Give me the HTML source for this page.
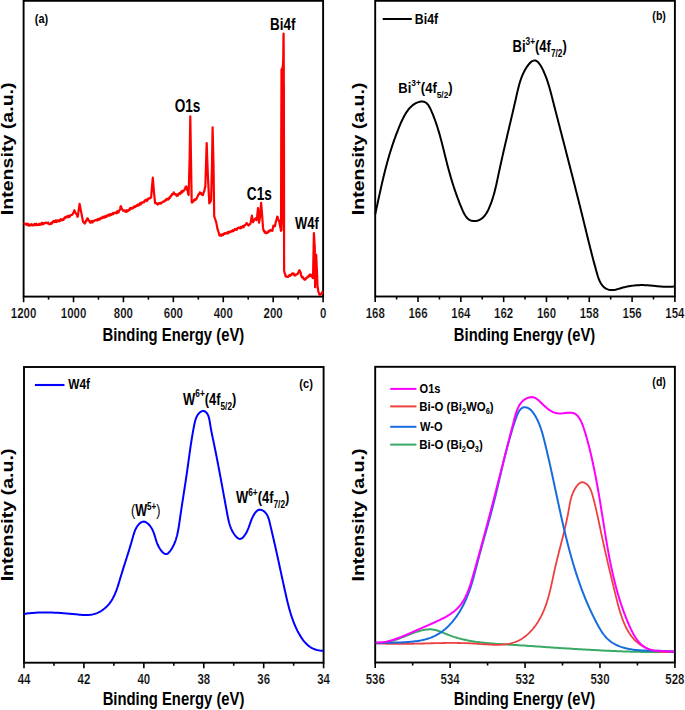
<!DOCTYPE html>
<html><head><meta charset="utf-8"><style>
html,body{margin:0;padding:0;background:#fff;}
svg{display:block;}
text{font-family:"Liberation Sans",sans-serif;}
</style></head><body>
<svg width="685" height="710" viewBox="0 0 685 710">
<rect width="685" height="710" fill="#fff"/>
<rect x="23.60" y="0.80" width="299.50" height="295.80" fill="none" stroke="#000" stroke-width="1.9"/>
<line x1="323.10" y1="296.60" x2="323.10" y2="302.20" stroke="#000" stroke-width="1.6"/>
<line x1="298.14" y1="296.60" x2="298.14" y2="299.60" stroke="#000" stroke-width="1.6"/>
<line x1="273.18" y1="296.60" x2="273.18" y2="302.20" stroke="#000" stroke-width="1.6"/>
<line x1="248.22" y1="296.60" x2="248.22" y2="299.60" stroke="#000" stroke-width="1.6"/>
<line x1="223.27" y1="296.60" x2="223.27" y2="302.20" stroke="#000" stroke-width="1.6"/>
<line x1="198.31" y1="296.60" x2="198.31" y2="299.60" stroke="#000" stroke-width="1.6"/>
<line x1="173.35" y1="296.60" x2="173.35" y2="302.20" stroke="#000" stroke-width="1.6"/>
<line x1="148.39" y1="296.60" x2="148.39" y2="299.60" stroke="#000" stroke-width="1.6"/>
<line x1="123.43" y1="296.60" x2="123.43" y2="302.20" stroke="#000" stroke-width="1.6"/>
<line x1="98.47" y1="296.60" x2="98.47" y2="299.60" stroke="#000" stroke-width="1.6"/>
<line x1="73.52" y1="296.60" x2="73.52" y2="302.20" stroke="#000" stroke-width="1.6"/>
<line x1="48.56" y1="296.60" x2="48.56" y2="299.60" stroke="#000" stroke-width="1.6"/>
<line x1="23.60" y1="296.60" x2="23.60" y2="302.20" stroke="#000" stroke-width="1.6"/>
<rect x="375.20" y="0.80" width="299.70" height="295.70" fill="none" stroke="#000" stroke-width="1.9"/>
<line x1="674.90" y1="296.50" x2="674.90" y2="302.10" stroke="#000" stroke-width="1.6"/>
<line x1="653.49" y1="296.50" x2="653.49" y2="299.50" stroke="#000" stroke-width="1.6"/>
<line x1="632.09" y1="296.50" x2="632.09" y2="302.10" stroke="#000" stroke-width="1.6"/>
<line x1="610.68" y1="296.50" x2="610.68" y2="299.50" stroke="#000" stroke-width="1.6"/>
<line x1="589.27" y1="296.50" x2="589.27" y2="302.10" stroke="#000" stroke-width="1.6"/>
<line x1="567.86" y1="296.50" x2="567.86" y2="299.50" stroke="#000" stroke-width="1.6"/>
<line x1="546.46" y1="296.50" x2="546.46" y2="302.10" stroke="#000" stroke-width="1.6"/>
<line x1="525.05" y1="296.50" x2="525.05" y2="299.50" stroke="#000" stroke-width="1.6"/>
<line x1="503.64" y1="296.50" x2="503.64" y2="302.10" stroke="#000" stroke-width="1.6"/>
<line x1="482.24" y1="296.50" x2="482.24" y2="299.50" stroke="#000" stroke-width="1.6"/>
<line x1="460.83" y1="296.50" x2="460.83" y2="302.10" stroke="#000" stroke-width="1.6"/>
<line x1="439.42" y1="296.50" x2="439.42" y2="299.50" stroke="#000" stroke-width="1.6"/>
<line x1="418.01" y1="296.50" x2="418.01" y2="302.10" stroke="#000" stroke-width="1.6"/>
<line x1="396.61" y1="296.50" x2="396.61" y2="299.50" stroke="#000" stroke-width="1.6"/>
<line x1="375.20" y1="296.50" x2="375.20" y2="302.10" stroke="#000" stroke-width="1.6"/>
<rect x="24.00" y="367.00" width="299.60" height="295.70" fill="none" stroke="#000" stroke-width="1.9"/>
<line x1="323.60" y1="662.70" x2="323.60" y2="668.30" stroke="#000" stroke-width="1.6"/>
<line x1="293.64" y1="662.70" x2="293.64" y2="665.70" stroke="#000" stroke-width="1.6"/>
<line x1="263.68" y1="662.70" x2="263.68" y2="668.30" stroke="#000" stroke-width="1.6"/>
<line x1="233.72" y1="662.70" x2="233.72" y2="665.70" stroke="#000" stroke-width="1.6"/>
<line x1="203.76" y1="662.70" x2="203.76" y2="668.30" stroke="#000" stroke-width="1.6"/>
<line x1="173.80" y1="662.70" x2="173.80" y2="665.70" stroke="#000" stroke-width="1.6"/>
<line x1="143.84" y1="662.70" x2="143.84" y2="668.30" stroke="#000" stroke-width="1.6"/>
<line x1="113.88" y1="662.70" x2="113.88" y2="665.70" stroke="#000" stroke-width="1.6"/>
<line x1="83.92" y1="662.70" x2="83.92" y2="668.30" stroke="#000" stroke-width="1.6"/>
<line x1="53.96" y1="662.70" x2="53.96" y2="665.70" stroke="#000" stroke-width="1.6"/>
<line x1="24.00" y1="662.70" x2="24.00" y2="668.30" stroke="#000" stroke-width="1.6"/>
<rect x="375.20" y="366.80" width="299.70" height="295.70" fill="none" stroke="#000" stroke-width="1.9"/>
<line x1="674.90" y1="662.50" x2="674.90" y2="668.10" stroke="#000" stroke-width="1.6"/>
<line x1="637.44" y1="662.50" x2="637.44" y2="665.50" stroke="#000" stroke-width="1.6"/>
<line x1="599.97" y1="662.50" x2="599.97" y2="668.10" stroke="#000" stroke-width="1.6"/>
<line x1="562.51" y1="662.50" x2="562.51" y2="665.50" stroke="#000" stroke-width="1.6"/>
<line x1="525.05" y1="662.50" x2="525.05" y2="668.10" stroke="#000" stroke-width="1.6"/>
<line x1="487.59" y1="662.50" x2="487.59" y2="665.50" stroke="#000" stroke-width="1.6"/>
<line x1="450.12" y1="662.50" x2="450.12" y2="668.10" stroke="#000" stroke-width="1.6"/>
<line x1="412.66" y1="662.50" x2="412.66" y2="665.50" stroke="#000" stroke-width="1.6"/>
<line x1="375.20" y1="662.50" x2="375.20" y2="668.10" stroke="#000" stroke-width="1.6"/>
<path d="M280.50,231.00 L280.70,152.00 L281.10,72.00 L281.40,69.50 L282.50,57.00 L282.80,33.50 L284.00,33.50 L284.20,57.00 L284.30,83.00 L284.80,86.00 L284.80,214.00 L283.40,214.00 L282.50,231.00 Z" fill="#ff0000"/>
<path d="M24.10,224.00 L24.53,223.57 L24.97,224.22 L25.40,223.95 L25.83,224.46 L26.27,224.57 L26.70,223.57 L27.13,223.54 L27.57,225.17 L28.00,224.14 L28.43,224.16 L28.87,225.68 L29.30,224.80 L29.73,224.74 L30.15,225.44 L30.58,224.76 L31.01,225.06 L31.44,224.14 L31.86,225.06 L32.29,225.50 L32.72,224.84 L33.15,225.26 L33.57,225.13 L34.00,224.80 L34.43,223.92 L34.85,225.18 L35.28,224.81 L35.71,224.20 L36.14,223.64 L36.56,225.17 L36.99,224.37 L37.42,224.78 L37.85,225.03 L38.27,224.66 L38.70,224.20 L39.13,224.93 L39.55,223.85 L39.98,224.55 L40.41,223.80 L40.84,224.66 L41.26,224.48 L41.69,222.93 L42.12,222.93 L42.55,223.01 L42.97,224.36 L43.40,223.40 L43.82,223.20 L44.24,223.48 L44.65,222.78 L45.07,223.09 L45.49,222.77 L45.91,222.63 L46.33,222.99 L46.75,222.91 L47.16,223.43 L47.58,222.93 L48.00,222.50 L48.48,223.61 L48.96,223.78 L49.44,224.33 L49.92,224.03 L50.40,224.00 L50.86,222.90 L51.32,223.77 L51.78,223.50 L52.24,222.93 L52.70,221.70 L53.11,221.77 L53.52,221.99 L53.94,220.97 L54.35,222.09 L54.76,221.55 L55.17,220.94 L55.58,220.46 L55.99,221.90 L56.41,222.10 L56.82,220.33 L57.23,221.62 L57.64,220.82 L58.05,220.27 L58.46,220.48 L58.88,221.33 L59.29,221.47 L59.70,220.70 L60.13,219.62 L60.55,220.50 L60.98,219.21 L61.41,220.28 L61.84,219.33 L62.26,220.17 L62.69,220.15 L63.12,219.04 L63.55,219.77 L63.97,218.25 L64.40,218.40 L64.83,217.39 L65.25,218.17 L65.68,216.88 L66.11,216.99 L66.54,217.18 L66.96,217.36 L67.39,216.28 L67.82,215.86 L68.25,217.22 L68.67,215.96 L69.10,216.10 L69.54,216.75 L69.97,216.40 L70.41,215.19 L70.85,215.12 L71.29,215.01 L71.72,215.02 L72.16,214.71 L72.60,214.30 L73.02,213.39 L73.45,212.48 L73.88,212.06 L74.30,210.20 L74.75,211.09 L75.20,211.82 L75.65,213.24 L76.10,213.70 L76.52,213.93 L76.95,214.77 L77.38,216.78 L77.80,216.60 L78.25,213.40 L78.70,210.20 L79.15,207.00 L79.60,203.80 L80.02,206.00 L80.45,208.20 L80.88,210.40 L81.30,212.60 L81.75,214.93 L82.20,217.25 L82.65,219.57 L83.10,221.90 L83.52,222.37 L83.95,222.84 L84.38,222.25 L84.80,223.60 L85.21,222.70 L85.63,222.27 L86.04,220.46 L86.46,220.85 L86.87,220.14 L87.29,218.31 L87.70,218.40 L88.18,219.46 L88.66,219.98 L89.14,221.20 L89.62,221.40 L90.10,222.50 L90.52,222.73 L90.94,222.62 L91.35,221.10 L91.77,221.01 L92.19,222.02 L92.61,222.40 L93.03,220.88 L93.45,221.11 L93.86,221.20 L94.28,220.52 L94.70,220.70 L95.11,220.31 L95.52,220.08 L95.92,220.06 L96.33,220.36 L96.74,219.67 L97.15,219.68 L97.55,220.30 L97.96,218.75 L98.37,219.65 L98.78,219.84 L99.18,218.90 L99.59,218.60 L100.00,219.00 L100.40,219.34 L100.80,218.02 L101.20,217.69 L101.60,217.92 L102.00,217.80 L102.41,218.02 L102.82,216.74 L103.24,217.00 L103.65,216.87 L104.06,217.67 L104.47,216.77 L104.88,217.40 L105.29,215.95 L105.71,216.11 L106.12,216.56 L106.53,216.85 L106.94,215.87 L107.35,215.29 L107.76,214.94 L108.18,215.56 L108.59,214.77 L109.00,215.20 L109.41,215.63 L109.82,215.54 L110.24,214.14 L110.65,214.17 L111.06,215.02 L111.47,214.55 L111.88,214.71 L112.29,213.68 L112.71,213.12 L113.12,213.28 L113.53,214.08 L113.94,212.93 L114.35,212.92 L114.76,212.90 L115.18,212.75 L115.59,212.58 L116.00,212.60 L116.41,213.23 L116.83,211.60 L117.24,211.14 L117.66,212.76 L118.07,212.46 L118.49,212.50 L118.90,211.40 L119.30,210.22 L119.70,210.14 L120.10,209.03 L120.50,206.63 L120.90,206.10 L121.32,207.51 L121.74,208.62 L122.16,209.23 L122.58,209.90 L123.00,210.80 L123.41,210.51 L123.83,210.73 L124.24,210.63 L124.66,210.44 L125.07,211.54 L125.49,211.08 L125.90,211.60 L126.33,211.90 L126.76,210.16 L127.19,211.51 L127.61,210.83 L128.04,210.98 L128.47,210.64 L128.90,209.60 L129.31,210.15 L129.73,209.33 L130.14,208.05 L130.56,209.24 L130.97,207.94 L131.39,207.98 L131.80,208.46 L132.21,207.99 L132.63,207.57 L133.04,208.36 L133.46,207.53 L133.87,206.81 L134.29,206.44 L134.70,206.70 L135.11,207.18 L135.52,206.24 L135.94,206.62 L136.35,205.59 L136.76,205.10 L137.17,205.53 L137.58,205.86 L137.99,204.43 L138.41,205.40 L138.82,205.44 L139.23,205.02 L139.64,204.84 L140.05,203.09 L140.46,204.06 L140.88,204.30 L141.29,202.55 L141.70,203.20 L142.12,202.52 L142.54,202.26 L142.96,202.50 L143.39,202.05 L143.81,201.90 L144.23,202.23 L144.65,200.50 L145.07,200.35 L145.49,200.24 L145.91,199.99 L146.34,199.63 L146.76,201.10 L147.18,200.62 L147.60,199.70 L148.04,198.63 L148.47,199.13 L148.91,198.49 L149.35,198.20 L149.79,197.98 L150.22,198.25 L150.66,197.85 L151.10,197.40 L151.53,192.43 L151.95,187.45 L152.38,182.47 L152.80,177.50 L153.40,185.10 L154.00,192.70 L154.55,197.95 L155.10,203.20 L155.53,203.11 L155.96,202.96 L156.39,203.39 L156.81,203.17 L157.24,204.16 L157.67,204.64 L158.10,204.40 L158.52,203.95 L158.94,203.17 L159.35,203.13 L159.77,203.29 L160.19,203.51 L160.61,203.63 L161.03,202.65 L161.45,203.23 L161.86,202.67 L162.28,202.09 L162.70,202.00 L163.12,201.51 L163.54,201.49 L163.96,201.64 L164.39,200.85 L164.81,201.12 L165.23,200.43 L165.65,199.77 L166.07,200.07 L166.49,200.12 L166.91,198.69 L167.34,199.11 L167.76,198.86 L168.18,199.47 L168.60,198.50 L169.01,198.90 L169.43,197.40 L169.84,197.97 L170.26,197.34 L170.67,195.91 L171.09,195.86 L171.50,195.50 L171.94,194.14 L172.38,194.82 L172.82,193.89 L173.26,193.68 L173.70,192.30 L174.14,193.38 L174.59,193.68 L175.03,194.33 L175.47,194.54 L175.91,194.19 L176.36,195.64 L176.80,196.00 L177.26,194.70 L177.71,194.61 L178.17,195.45 L178.63,193.71 L179.09,193.44 L179.54,193.10 L180.00,193.50 L180.44,193.85 L180.88,192.14 L181.31,191.47 L181.75,192.65 L182.19,190.91 L182.62,191.90 L183.06,191.20 L183.50,190.50 L183.91,190.57 L184.33,190.22 L184.74,188.94 L185.16,188.78 L185.57,186.76 L185.99,187.58 L186.40,186.50 L186.84,188.22 L187.28,190.31 L187.72,190.85 L188.16,193.77 L188.60,195.00 L189.10,177.50 L189.60,160.00 L190.30,116.40 L191.00,160.00 L191.70,202.00 L192.10,202.56 L192.50,200.63 L192.90,200.87 L193.30,201.05 L193.70,201.29 L194.10,199.91 L194.50,199.52 L194.90,199.39 L195.30,199.82 L195.70,199.82 L196.10,198.86 L196.50,198.80 L196.91,197.75 L197.32,197.00 L197.74,196.12 L198.15,195.44 L198.56,194.01 L198.98,194.00 L199.39,194.10 L199.80,192.40 L200.24,192.63 L200.69,193.67 L201.13,192.96 L201.57,194.36 L202.01,194.89 L202.46,195.13 L202.90,195.20 L203.30,193.85 L203.70,192.40 L204.10,191.32 L204.50,190.42 L204.90,187.62 L205.30,186.90 L205.77,172.27 L206.23,157.63 L206.70,143.00 L207.25,158.55 L207.80,174.10 L208.30,183.87 L208.80,193.63 L209.30,203.40 L209.75,201.71 L210.20,202.02 L210.65,201.42 L211.10,199.70 L211.55,182.30 L212.00,164.90 L212.60,127.40 L213.05,146.15 L213.50,164.90 L214.20,216.20 L214.67,217.61 L215.15,218.84 L215.62,220.74 L216.10,221.70 L216.57,224.13 L217.03,226.57 L217.50,229.00 L217.97,230.03 L218.45,231.81 L218.93,233.30 L219.40,235.50 L219.80,235.54 L220.20,234.91 L220.60,234.64 L221.00,235.39 L221.40,235.77 L221.80,234.40 L222.20,235.06 L222.60,234.39 L223.00,235.10 L223.40,234.47 L223.80,233.75 L224.20,233.54 L224.60,233.05 L225.00,233.80 L225.40,233.50 L225.80,233.60 L226.23,232.77 L226.67,232.91 L227.10,232.63 L227.53,233.28 L227.97,231.87 L228.40,233.27 L228.83,232.08 L229.27,232.10 L229.70,231.70 L230.10,231.48 L230.50,232.02 L230.90,231.84 L231.30,231.18 L231.70,230.87 L232.10,231.17 L232.50,231.27 L232.90,230.24 L233.30,230.72 L233.70,230.99 L234.10,229.90 L234.50,229.80 L234.93,229.11 L235.35,228.95 L235.78,229.70 L236.21,229.44 L236.64,229.81 L237.06,229.44 L237.49,228.10 L237.92,227.83 L238.35,227.79 L238.77,227.48 L239.20,227.90 L239.60,228.17 L240.00,228.35 L240.40,228.31 L240.80,226.97 L241.20,228.01 L241.60,226.85 L242.00,226.94 L242.40,227.40 L242.80,226.06 L243.20,225.96 L243.60,227.25 L244.00,226.50 L244.46,225.52 L244.92,225.07 L245.38,224.91 L245.84,224.51 L246.30,223.60 L246.78,223.04 L247.26,224.05 L247.74,224.62 L248.22,225.09 L248.70,225.50 L249.17,224.25 L249.65,224.26 L250.12,224.27 L250.60,222.70 L251.03,220.33 L251.47,217.97 L251.90,215.60 L252.45,218.90 L253.00,222.20 L253.40,221.36 L253.80,221.02 L254.20,219.58 L254.60,219.24 L255.00,219.35 L255.40,218.40 L255.87,218.13 L256.33,220.07 L256.80,219.80 L257.40,213.90 L258.00,208.00 L258.50,215.35 L259.00,222.70 L259.45,220.35 L259.90,218.00 L260.30,212.93 L260.70,207.87 L261.10,202.80 L261.65,209.45 L262.20,216.10 L262.60,221.75 L263.00,227.40 L263.45,230.08 L263.90,231.20 L264.30,230.71 L264.70,232.58 L265.10,231.78 L265.50,232.80 L265.90,233.05 L266.30,232.44 L266.70,233.10 L267.11,233.03 L267.53,232.59 L267.94,232.48 L268.36,231.05 L268.77,231.58 L269.19,231.58 L269.60,230.30 L270.07,230.71 L270.53,230.54 L271.00,229.82 L271.47,230.62 L271.93,230.44 L272.40,230.80 L272.90,228.15 L273.40,225.50 L273.87,226.25 L274.33,226.51 L274.80,226.50 L275.28,224.63 L275.76,221.90 L276.24,220.78 L276.72,218.75 L277.20,216.50 L277.68,216.97 L278.15,219.39 L278.62,220.02 L279.10,220.80 L279.58,223.30 L280.05,225.80 L280.52,228.30 L281.00,230.80 L281.50,69.50 L281.95,68.78 L282.40,69.50 L283.00,120.00 L283.60,33.60 L284.00,150.00 L284.10,270.40 L284.57,273.12 L285.03,273.52 L285.50,276.10 L285.90,275.88 L286.30,276.72 L286.70,276.59 L287.10,276.60 L287.50,276.88 L287.90,276.62 L288.30,276.80 L288.72,276.11 L289.14,275.53 L289.56,274.99 L289.98,275.89 L290.40,275.63 L290.82,274.90 L291.24,274.95 L291.66,273.89 L292.08,273.39 L292.50,273.50 L292.91,273.55 L293.33,274.75 L293.74,273.44 L294.16,274.59 L294.57,274.38 L294.99,275.64 L295.40,275.40 L295.82,274.82 L296.24,274.48 L296.66,274.32 L297.08,274.28 L297.50,273.90 L297.92,273.72 L298.34,272.22 L298.76,272.46 L299.18,270.36 L299.60,270.40 L300.02,271.24 L300.44,272.20 L300.86,273.50 L301.28,276.05 L301.70,276.80 L302.14,277.58 L302.57,276.90 L303.01,277.26 L303.45,278.04 L303.89,279.01 L304.32,279.50 L304.76,279.72 L305.20,279.60 L305.60,279.37 L306.00,278.13 L306.40,278.21 L306.80,277.42 L307.20,277.65 L307.60,277.33 L308.00,276.80 L308.40,275.92 L308.80,275.70 L309.20,276.39 L309.60,274.65 L310.00,275.80 L310.40,275.66 L310.80,274.60 L311.24,276.17 L311.68,275.82 L312.12,276.86 L312.56,277.64 L313.00,278.20 L313.45,255.65 L313.90,233.10 L314.35,240.50 L314.80,247.90 L315.10,287.30 L315.65,271.10 L316.20,254.90 L316.90,270.40 L317.60,287.30 L318.03,289.33 L318.45,291.76 L318.88,292.98 L319.30,294.40 L319.72,293.88 L320.14,294.80 L320.56,293.95 L320.98,294.03 L321.40,293.70 L321.87,293.66 L322.33,291.82 L322.80,292.30" fill="none" stroke="#ff0000" stroke-width="2.2" stroke-linejoin="round"/>
<path d="M375.21,214.25 L375.55,212.69 L375.89,211.15 L376.22,209.61 L376.56,208.08 L376.89,206.55 L377.22,205.04 L377.54,203.53 L377.87,202.02 L378.19,200.53 L378.52,199.04 L378.84,197.56 L379.16,196.08 L379.48,194.61 L379.80,193.15 L380.13,191.69 L380.45,190.23 L380.77,188.78 L381.10,187.34 L381.42,185.89 L381.75,184.46 L382.08,183.02 L382.41,181.59 L382.74,180.17 L383.08,178.75 L383.41,177.33 L383.76,175.91 L384.10,174.49 L384.45,173.08 L384.80,171.67 L385.16,170.26 L385.52,168.86 L385.88,167.45 L386.25,166.04 L386.62,164.64 L387.00,163.24 L387.39,161.83 L387.78,160.43 L388.17,159.03 L388.58,157.62 L388.99,156.22 L389.40,154.81 L389.82,153.41 L390.25,152.00 L390.69,150.59 L391.14,149.18 L391.59,147.77 L392.05,146.35 L392.52,144.94 L393.00,143.52 L393.49,142.09 L393.99,140.67 L394.49,139.24 L395.01,137.80 L395.53,136.36 L396.07,134.92 L396.62,133.48 L397.18,132.03 L397.74,130.57 L398.32,129.11 L398.91,127.64 L399.52,126.17 L400.13,124.70 L400.76,123.22 L401.41,121.75 L402.08,120.29 L402.76,118.85 L403.48,117.43 L404.21,116.03 L404.98,114.67 L405.77,113.34 L406.60,112.06 L407.46,110.82 L408.36,109.63 L409.30,108.50 L410.27,107.43 L411.30,106.43 L412.36,105.51 L413.48,104.66 L414.64,103.89 L415.86,103.21 L417.13,102.62 L418.46,102.14 L419.81,101.77 L421.17,101.56 L422.49,101.52 L423.75,101.69 L424.92,102.08 L425.99,102.70 L426.96,103.53 L427.85,104.52 L428.66,105.66 L429.42,106.92 L430.12,108.26 L430.79,109.67 L431.43,111.10 L432.04,112.54 L432.64,113.98 L433.23,115.43 L433.79,116.87 L434.35,118.32 L434.88,119.77 L435.40,121.22 L435.91,122.67 L436.41,124.13 L436.89,125.58 L437.36,127.04 L437.82,128.49 L438.26,129.95 L438.70,131.41 L439.13,132.87 L439.55,134.32 L439.96,135.78 L440.36,137.24 L440.76,138.70 L441.15,140.16 L441.53,141.61 L441.91,143.07 L442.28,144.52 L442.65,145.98 L443.02,147.43 L443.38,148.88 L443.74,150.33 L444.10,151.78 L444.46,153.23 L444.81,154.68 L445.17,156.12 L445.53,157.56 L445.89,159.00 L446.25,160.44 L446.61,161.87 L446.98,163.30 L447.35,164.73 L447.72,166.16 L448.10,167.59 L448.48,169.01 L448.87,170.43 L449.26,171.85 L449.66,173.28 L450.06,174.70 L450.46,176.11 L450.88,177.53 L451.30,178.95 L451.72,180.37 L452.15,181.79 L452.59,183.21 L453.04,184.64 L453.50,186.06 L453.96,187.48 L454.43,188.91 L454.91,190.33 L455.40,191.76 L455.90,193.20 L456.40,194.63 L456.92,196.07 L457.45,197.51 L457.99,198.95 L458.54,200.40 L459.10,201.84 L459.67,203.30 L460.25,204.76 L460.84,206.22 L461.45,207.68 L462.07,209.15 L462.71,210.61 L463.38,212.04 L464.07,213.43 L464.81,214.75 L465.60,216.00 L466.44,217.15 L467.35,218.18 L468.32,219.09 L469.38,219.85 L470.51,220.44 L471.74,220.86 L473.05,221.08 L474.43,221.12 L475.84,220.98 L477.25,220.68 L478.64,220.22 L479.98,219.62 L481.24,218.87 L482.40,217.99 L483.48,217.00 L484.48,215.90 L485.40,214.72 L486.26,213.45 L487.06,212.13 L487.80,210.75 L488.49,209.34 L489.14,207.90 L489.76,206.45 L490.35,204.99 L490.90,203.54 L491.44,202.09 L491.94,200.64 L492.43,199.19 L492.89,197.73 L493.33,196.28 L493.76,194.83 L494.16,193.38 L494.55,191.93 L494.92,190.48 L495.28,189.03 L495.63,187.58 L495.97,186.12 L496.30,184.67 L496.62,183.22 L496.94,181.77 L497.25,180.32 L497.55,178.87 L497.86,177.42 L498.16,175.97 L498.47,174.52 L498.78,173.06 L499.09,171.61 L499.40,170.16 L499.71,168.71 L500.03,167.26 L500.34,165.81 L500.66,164.36 L500.98,162.91 L501.31,161.45 L501.63,160.00 L501.96,158.55 L502.28,157.10 L502.61,155.65 L502.94,154.19 L503.27,152.74 L503.60,151.29 L503.94,149.83 L504.27,148.38 L504.61,146.93 L504.94,145.47 L505.28,144.02 L505.62,142.57 L505.96,141.11 L506.30,139.66 L506.64,138.20 L506.98,136.74 L507.32,135.29 L507.66,133.83 L508.00,132.37 L508.34,130.92 L508.69,129.46 L509.03,128.00 L509.37,126.54 L509.72,125.08 L510.06,123.62 L510.40,122.16 L510.75,120.70 L511.09,119.24 L511.43,117.78 L511.77,116.32 L512.12,114.86 L512.46,113.39 L512.80,111.93 L513.14,110.46 L513.48,109.00 L513.82,107.53 L514.16,106.07 L514.50,104.60 L514.83,103.13 L515.17,101.66 L515.50,100.19 L515.84,98.72 L516.17,97.25 L516.50,95.78 L516.83,94.31 L517.17,92.84 L517.51,91.36 L517.85,89.89 L518.21,88.43 L518.58,86.96 L518.97,85.50 L519.37,84.04 L519.80,82.59 L520.25,81.14 L520.72,79.70 L521.23,78.27 L521.77,76.85 L522.35,75.43 L522.96,74.02 L523.62,72.62 L524.32,71.23 L525.06,69.86 L525.86,68.49 L526.70,67.14 L527.59,65.84 L528.52,64.61 L529.47,63.49 L530.45,62.49 L531.44,61.66 L532.43,61.02 L533.43,60.60 L534.41,60.43 L535.38,60.54 L536.34,60.90 L537.27,61.51 L538.18,62.32 L539.06,63.32 L539.92,64.47 L540.76,65.76 L541.56,67.15 L542.34,68.63 L543.08,70.17 L543.79,71.73 L544.47,73.30 L545.11,74.85 L545.71,76.38 L546.29,77.90 L546.83,79.40 L547.35,80.89 L547.84,82.36 L548.31,83.83 L548.76,85.28 L549.19,86.72 L549.60,88.16 L550.00,89.59 L550.39,91.01 L550.77,92.43 L551.14,93.85 L551.51,95.27 L551.87,96.68 L552.23,98.10 L552.60,99.52 L552.96,100.94 L553.33,102.36 L553.69,103.79 L554.06,105.22 L554.43,106.64 L554.80,108.07 L555.16,109.50 L555.53,110.94 L555.90,112.37 L556.27,113.81 L556.64,115.24 L557.02,116.68 L557.39,118.12 L557.76,119.56 L558.13,121.00 L558.50,122.45 L558.88,123.89 L559.25,125.34 L559.63,126.78 L560.00,128.23 L560.38,129.68 L560.75,131.13 L561.13,132.58 L561.50,134.03 L561.88,135.48 L562.25,136.93 L562.63,138.39 L563.00,139.84 L563.38,141.30 L563.76,142.75 L564.13,144.21 L564.51,145.67 L564.89,147.12 L565.26,148.58 L565.64,150.04 L566.02,151.50 L566.39,152.96 L566.77,154.42 L567.14,155.88 L567.52,157.34 L567.90,158.80 L568.27,160.26 L568.65,161.72 L569.02,163.18 L569.40,164.64 L569.77,166.10 L570.15,167.56 L570.52,169.02 L570.90,170.48 L571.27,171.94 L571.65,173.40 L572.02,174.86 L572.39,176.32 L572.76,177.78 L573.14,179.23 L573.51,180.69 L573.88,182.15 L574.25,183.61 L574.62,185.06 L574.99,186.52 L575.36,187.98 L575.73,189.43 L576.10,190.89 L576.46,192.34 L576.83,193.79 L577.20,195.24 L577.56,196.70 L577.93,198.15 L578.29,199.60 L578.65,201.04 L579.02,202.49 L579.38,203.94 L579.74,205.38 L580.10,206.83 L580.46,208.27 L580.82,209.71 L581.17,211.15 L581.53,212.59 L581.88,214.03 L582.24,215.47 L582.59,216.90 L582.95,218.34 L583.30,219.77 L583.65,221.20 L584.00,222.63 L584.35,224.06 L584.69,225.49 L585.04,226.91 L585.39,228.34 L585.74,229.77 L586.08,231.19 L586.43,232.62 L586.78,234.05 L587.13,235.47 L587.48,236.90 L587.83,238.33 L588.18,239.77 L588.54,241.20 L588.89,242.64 L589.25,244.07 L589.61,245.52 L589.97,246.96 L590.34,248.41 L590.70,249.86 L591.07,251.31 L591.45,252.77 L591.82,254.24 L592.20,255.70 L592.59,257.18 L592.98,258.65 L593.37,260.14 L593.76,261.63 L594.16,263.12 L594.57,264.62 L594.98,266.13 L595.40,267.64 L595.82,269.17 L596.24,270.69 L596.67,272.23 L597.11,273.77 L597.57,275.30 L598.05,276.81 L598.57,278.30 L599.13,279.75 L599.73,281.14 L600.39,282.47 L601.12,283.74 L601.92,284.91 L602.80,286.00 L603.77,286.98 L604.83,287.84 L605.98,288.58 L607.20,289.19 L608.49,289.65 L609.83,289.96 L611.21,290.11 L612.62,290.09 L614.06,289.93 L615.51,289.65 L616.98,289.28 L618.46,288.86 L619.94,288.42 L621.42,287.99 L622.90,287.59 L624.37,287.21 L625.84,286.87 L627.30,286.56 L628.77,286.28 L630.23,286.03 L631.69,285.81 L633.16,285.62 L634.62,285.46 L636.08,285.33 L637.54,285.23 L639.01,285.15 L640.48,285.10 L641.95,285.08 L643.43,285.09 L644.91,285.13 L646.39,285.19 L647.88,285.28 L649.38,285.39 L650.88,285.52 L652.39,285.67 L653.89,285.82 L655.40,285.98 L656.91,286.14 L658.43,286.30 L659.94,286.44 L661.45,286.58 L662.96,286.69 L664.46,286.78 L665.97,286.83 L667.47,286.86 L668.96,286.85 L670.45,286.79 L671.93,286.69 L673.41,286.53 L674.87,286.32" fill="none" stroke="#000" stroke-width="2"/>
<path d="M24.08,613.91 L25.59,613.69 L27.09,613.49 L28.59,613.31 L30.09,613.15 L31.59,613.01 L33.09,612.88 L34.59,612.77 L36.08,612.68 L37.57,612.60 L39.07,612.54 L40.56,612.49 L42.05,612.46 L43.54,612.44 L45.03,612.43 L46.52,612.43 L48.01,612.45 L49.49,612.48 L50.98,612.52 L52.47,612.57 L53.96,612.63 L55.45,612.70 L56.94,612.78 L58.43,612.86 L59.92,612.96 L61.41,613.06 L62.90,613.17 L64.40,613.28 L65.89,613.40 L67.39,613.53 L68.89,613.66 L70.39,613.80 L71.89,613.93 L73.39,614.08 L74.90,614.22 L76.40,614.37 L77.91,614.51 L79.42,614.66 L80.93,614.78 L82.44,614.89 L83.94,614.96 L85.44,615.00 L86.93,615.00 L88.41,614.94 L89.89,614.82 L91.35,614.64 L92.80,614.38 L94.23,614.03 L95.65,613.60 L97.05,613.08 L98.43,612.47 L99.78,611.78 L101.10,611.01 L102.37,610.18 L103.61,609.28 L104.80,608.33 L105.93,607.33 L107.01,606.27 L108.03,605.18 L108.99,604.05 L109.90,602.88 L110.76,601.68 L111.57,600.45 L112.33,599.18 L113.05,597.89 L113.74,596.57 L114.38,595.23 L114.99,593.86 L115.57,592.48 L116.13,591.08 L116.65,589.66 L117.16,588.24 L117.65,586.80 L118.12,585.36 L118.57,583.90 L119.02,582.45 L119.45,580.99 L119.89,579.54 L120.32,578.09 L120.75,576.64 L121.18,575.20 L121.62,573.77 L122.06,572.34 L122.50,570.91 L122.94,569.49 L123.39,568.08 L123.84,566.67 L124.29,565.26 L124.73,563.85 L125.18,562.44 L125.63,561.03 L126.08,559.63 L126.53,558.22 L126.98,556.81 L127.43,555.40 L127.87,553.98 L128.32,552.57 L128.76,551.14 L129.20,549.72 L129.64,548.28 L130.08,546.85 L130.51,545.40 L130.94,543.95 L131.37,542.49 L131.79,541.02 L132.21,539.54 L132.63,538.06 L133.04,536.56 L133.47,535.07 L133.92,533.59 L134.41,532.13 L134.94,530.71 L135.54,529.32 L136.20,527.98 L136.95,526.71 L137.80,525.50 L138.75,524.37 L139.82,523.33 L141.00,522.46 L142.24,521.85 L143.54,521.60 L144.85,521.79 L146.15,522.36 L147.41,523.22 L148.59,524.29 L149.68,525.48 L150.64,526.72 L151.47,527.98 L152.20,529.26 L152.84,530.56 L153.40,531.88 L153.90,533.21 L154.35,534.56 L154.78,535.93 L155.20,537.32 L155.62,538.73 L156.06,540.15 L156.54,541.58 L157.07,543.04 L157.67,544.51 L158.35,545.99 L159.14,547.49 L160.04,549.00 L161.03,550.44 L162.09,551.74 L163.20,552.82 L164.33,553.61 L165.46,554.03 L166.56,554.00 L167.62,553.56 L168.64,552.77 L169.61,551.73 L170.52,550.53 L171.38,549.24 L172.17,547.93 L172.91,546.61 L173.59,545.26 L174.21,543.89 L174.79,542.51 L175.33,541.12 L175.82,539.71 L176.26,538.29 L176.68,536.85 L177.06,535.40 L177.40,533.95 L177.72,532.48 L178.02,531.01 L178.30,529.53 L178.55,528.04 L178.80,526.55 L179.03,525.06 L179.25,523.56 L179.46,522.06 L179.68,520.56 L179.89,519.06 L180.10,517.56 L180.32,516.06 L180.54,514.56 L180.76,513.06 L180.99,511.57 L181.21,510.07 L181.44,508.58 L181.66,507.09 L181.89,505.59 L182.12,504.10 L182.35,502.61 L182.58,501.12 L182.81,499.63 L183.04,498.15 L183.27,496.66 L183.50,495.18 L183.73,493.69 L183.96,492.21 L184.19,490.73 L184.42,489.25 L184.65,487.77 L184.87,486.29 L185.10,484.82 L185.32,483.34 L185.55,481.87 L185.77,480.40 L185.99,478.93 L186.21,477.46 L186.42,475.99 L186.64,474.53 L186.85,473.06 L187.06,471.60 L187.27,470.14 L187.47,468.68 L187.68,467.22 L187.88,465.76 L188.08,464.31 L188.28,462.85 L188.48,461.39 L188.68,459.93 L188.88,458.47 L189.08,457.01 L189.28,455.55 L189.49,454.08 L189.69,452.61 L189.90,451.14 L190.11,449.67 L190.32,448.19 L190.54,446.71 L190.76,445.22 L190.99,443.73 L191.22,442.24 L191.45,440.74 L191.69,439.23 L191.94,437.72 L192.19,436.20 L192.45,434.68 L192.72,433.15 L192.99,431.61 L193.27,430.07 L193.56,428.51 L193.85,426.95 L194.16,425.38 L194.48,423.81 L194.83,422.25 L195.22,420.71 L195.66,419.22 L196.18,417.79 L196.78,416.43 L197.48,415.16 L198.29,414.00 L199.23,412.96 L200.30,412.06 L201.46,411.39 L202.66,411.03 L203.84,411.05 L204.97,411.46 L206.00,412.21 L206.90,413.20 L207.65,414.37 L208.26,415.70 L208.76,417.15 L209.17,418.70 L209.51,420.32 L209.80,421.97 L210.06,423.63 L210.32,425.27 L210.59,426.88 L210.87,428.45 L211.15,429.99 L211.44,431.51 L211.73,433.00 L212.03,434.48 L212.33,435.94 L212.64,437.39 L212.94,438.84 L213.25,440.28 L213.55,441.72 L213.85,443.16 L214.15,444.60 L214.44,446.04 L214.74,447.48 L215.03,448.93 L215.32,450.37 L215.61,451.82 L215.90,453.27 L216.19,454.72 L216.48,456.17 L216.76,457.62 L217.05,459.08 L217.33,460.53 L217.61,461.99 L217.89,463.44 L218.17,464.90 L218.45,466.36 L218.73,467.82 L219.00,469.29 L219.28,470.75 L219.55,472.21 L219.83,473.68 L220.10,475.15 L220.38,476.62 L220.65,478.09 L220.92,479.56 L221.19,481.03 L221.47,482.50 L221.74,483.98 L222.01,485.46 L222.28,486.93 L222.55,488.41 L222.82,489.89 L223.10,491.37 L223.37,492.86 L223.64,494.34 L223.91,495.83 L224.18,497.31 L224.46,498.80 L224.73,500.29 L225.00,501.78 L225.28,503.28 L225.55,504.77 L225.83,506.27 L226.10,507.76 L226.38,509.26 L226.66,510.76 L226.93,512.26 L227.21,513.76 L227.50,515.26 L227.79,516.76 L228.09,518.25 L228.42,519.74 L228.77,521.21 L229.14,522.67 L229.55,524.12 L229.99,525.54 L230.48,526.94 L231.02,528.32 L231.60,529.67 L232.25,531.00 L232.95,532.29 L233.73,533.54 L234.57,534.76 L235.49,535.93 L236.48,537.02 L237.53,537.94 L238.63,538.61 L239.76,538.93 L240.90,538.83 L242.05,538.24 L243.17,537.23 L244.23,535.96 L245.20,534.56 L246.06,533.16 L246.82,531.76 L247.48,530.37 L248.08,528.99 L248.63,527.60 L249.14,526.20 L249.64,524.79 L250.13,523.37 L250.65,521.92 L251.20,520.45 L251.81,518.95 L252.48,517.43 L253.23,515.92 L254.03,514.48 L254.91,513.15 L255.85,511.97 L256.86,510.99 L257.94,510.25 L259.08,509.80 L260.28,509.68 L261.54,509.92 L262.83,510.51 L264.07,511.35 L265.20,512.39 L266.18,513.55 L267.00,514.81 L267.70,516.16 L268.29,517.58 L268.78,519.04 L269.21,520.55 L269.60,522.07 L269.95,523.60 L270.31,525.12 L270.66,526.62 L271.00,528.12 L271.35,529.60 L271.70,531.07 L272.04,532.54 L272.38,534.00 L272.72,535.45 L273.06,536.90 L273.40,538.35 L273.73,539.80 L274.07,541.24 L274.40,542.69 L274.73,544.14 L275.06,545.59 L275.39,547.04 L275.71,548.49 L276.04,549.94 L276.36,551.40 L276.68,552.85 L277.00,554.31 L277.32,555.77 L277.64,557.23 L277.96,558.69 L278.28,560.15 L278.60,561.61 L278.91,563.07 L279.23,564.53 L279.55,565.99 L279.86,567.46 L280.18,568.92 L280.50,570.38 L280.81,571.85 L281.13,573.31 L281.45,574.78 L281.76,576.24 L282.08,577.71 L282.40,579.18 L282.72,580.64 L283.04,582.11 L283.36,583.58 L283.68,585.04 L284.00,586.51 L284.32,587.98 L284.65,589.44 L284.97,590.91 L285.30,592.38 L285.63,593.84 L285.96,595.31 L286.29,596.77 L286.63,598.24 L286.97,599.70 L287.32,601.16 L287.67,602.62 L288.04,604.07 L288.41,605.53 L288.79,606.98 L289.18,608.42 L289.58,609.87 L289.99,611.30 L290.42,612.74 L290.85,614.17 L291.31,615.59 L291.78,617.01 L292.26,618.43 L292.76,619.83 L293.28,621.24 L293.82,622.63 L294.38,624.02 L294.95,625.40 L295.55,626.77 L296.17,628.14 L296.82,629.49 L297.48,630.84 L298.18,632.18 L298.89,633.51 L299.64,634.83 L300.41,636.13 L301.22,637.40 L302.06,638.65 L302.93,639.86 L303.85,641.04 L304.80,642.17 L305.79,643.25 L306.83,644.28 L307.91,645.25 L309.04,646.16 L310.22,647.00 L311.45,647.77 L312.73,648.46 L314.07,649.06 L315.47,649.58 L316.92,650.01 L318.44,650.33 L320.02,650.56 L321.67,650.67 L323.38,650.68" fill="none" stroke="#0000ff" stroke-width="2.0"/>
<path d="M375.89,642.62 L377.40,642.73 L378.91,642.78 L380.41,642.76 L381.90,642.69 L383.38,642.56 L384.86,642.38 L386.33,642.15 L387.80,641.87 L389.26,641.56 L390.72,641.20 L392.17,640.81 L393.62,640.39 L395.07,639.94 L396.51,639.46 L397.95,638.96 L399.39,638.44 L400.83,637.91 L402.26,637.36 L403.69,636.80 L405.12,636.24 L406.55,635.67 L407.98,635.11 L409.41,634.54 L410.84,633.99 L412.27,633.44 L413.70,632.91 L415.13,632.39 L416.56,631.90 L418.00,631.43 L419.43,630.99 L420.86,630.60 L422.29,630.25 L423.72,629.94 L425.14,629.69 L426.57,629.51 L427.99,629.38 L429.40,629.33 L430.82,629.35 L432.23,629.45 L433.63,629.64 L435.03,629.92 L436.43,630.27 L437.83,630.69 L439.22,631.16 L440.61,631.68 L442.00,632.23 L443.39,632.81 L444.79,633.39 L446.18,633.98 L447.59,634.55 L448.99,635.10 L450.40,635.63 L451.82,636.14 L453.23,636.63 L454.66,637.09 L456.09,637.53 L457.52,637.96 L458.95,638.36 L460.39,638.74 L461.84,639.11 L463.29,639.45 L464.74,639.78 L466.19,640.10 L467.65,640.39 L469.11,640.67 L470.57,640.94 L472.04,641.19 L473.51,641.43 L474.98,641.66 L476.46,641.87 L477.93,642.07 L479.41,642.26 L480.89,642.44 L482.38,642.61 L483.86,642.77 L485.35,642.92 L486.84,643.06 L488.33,643.20 L489.82,643.33 L491.32,643.45 L492.81,643.56 L494.31,643.67 L495.80,643.78 L497.30,643.88 L498.80,643.98 L500.30,644.08 L501.80,644.18 L503.30,644.27 L504.80,644.36 L506.29,644.46 L507.79,644.55 L509.29,644.64 L510.79,644.74 L512.29,644.83 L513.79,644.93 L515.29,645.03 L516.79,645.12 L518.29,645.22 L519.79,645.32 L521.29,645.42 L522.78,645.51 L524.28,645.61 L525.78,645.71 L527.28,645.81 L528.78,645.91 L530.28,646.01 L531.77,646.11 L533.27,646.22 L534.77,646.32 L536.27,646.42 L537.77,646.52 L539.26,646.62 L540.76,646.72 L542.26,646.82 L543.76,646.92 L545.25,647.03 L546.75,647.13 L548.25,647.23 L549.75,647.33 L551.24,647.43 L552.74,647.53 L554.24,647.63 L555.74,647.73 L557.23,647.83 L558.73,647.93 L560.23,648.03 L561.72,648.13 L563.22,648.22 L564.72,648.32 L566.22,648.42 L567.71,648.52 L569.21,648.61 L570.71,648.71 L572.20,648.80 L573.70,648.89 L575.20,648.99 L576.69,649.08 L578.19,649.17 L579.69,649.26 L581.19,649.35 L582.68,649.44 L584.18,649.53 L585.68,649.62 L587.17,649.70 L588.67,649.79 L590.17,649.87 L591.66,649.96 L593.16,650.04 L594.66,650.12 L596.16,650.20 L597.65,650.28 L599.15,650.36 L600.65,650.43 L602.15,650.51 L603.64,650.58 L605.14,650.65 L606.64,650.72 L608.13,650.79 L609.63,650.86 L611.13,650.93 L612.63,650.99 L614.12,651.05 L615.62,651.12 L617.12,651.18 L618.62,651.23 L620.12,651.29 L621.61,651.35 L623.11,651.40 L624.61,651.45 L626.11,651.50 L627.61,651.55 L629.10,651.59 L630.60,651.64 L632.10,651.68 L633.60,651.72 L635.10,651.76 L636.60,651.79 L638.10,651.83 L639.60,651.86 L641.09,651.89 L642.59,651.92 L644.09,651.94 L645.59,651.96 L647.09,651.99 L648.59,652.00 L650.09,652.02 L651.59,652.03 L653.09,652.04 L654.59,652.05 L656.09,652.06 L657.59,652.06 L659.09,652.07 L660.59,652.06 L662.09,652.06 L663.59,652.05 L665.09,652.05 L666.60,652.03 L668.10,652.02 L669.60,652.00 L671.10,651.98 L672.60,651.96 L674.10,651.93" fill="none" stroke="#38aa66" stroke-width="2"/>
<path d="M375.79,643.26 L377.34,643.35 L378.88,643.44 L380.43,643.52 L381.96,643.59 L383.49,643.65 L385.02,643.71 L386.55,643.75 L388.07,643.80 L389.59,643.83 L391.10,643.86 L392.61,643.89 L394.12,643.90 L395.62,643.92 L397.12,643.92 L398.62,643.93 L400.12,643.92 L401.61,643.92 L403.10,643.91 L404.59,643.89 L406.08,643.88 L407.56,643.85 L409.04,643.83 L410.52,643.80 L412.00,643.77 L413.48,643.74 L414.96,643.71 L416.44,643.67 L417.91,643.63 L419.39,643.60 L420.86,643.56 L422.33,643.52 L423.80,643.48 L425.28,643.43 L426.75,643.39 L428.22,643.35 L429.69,643.31 L431.17,643.27 L432.64,643.23 L434.11,643.20 L435.59,643.16 L437.06,643.13 L438.54,643.09 L440.02,643.06 L441.50,643.04 L442.98,643.01 L444.46,642.99 L445.95,642.97 L447.43,642.96 L448.92,642.95 L450.41,642.94 L451.90,642.94 L453.40,642.94 L454.89,642.95 L456.39,642.96 L457.90,642.98 L459.40,643.00 L460.91,643.03 L462.42,643.06 L463.94,643.11 L465.46,643.15 L466.98,643.21 L468.51,643.27 L470.04,643.34 L471.58,643.42 L473.12,643.50 L474.66,643.59 L476.21,643.69 L477.76,643.80 L479.32,643.91 L480.87,644.03 L482.43,644.14 L483.99,644.26 L485.55,644.36 L487.10,644.46 L488.66,644.55 L490.21,644.63 L491.75,644.70 L493.29,644.75 L494.83,644.78 L496.35,644.79 L497.87,644.78 L499.38,644.75 L500.88,644.68 L502.37,644.59 L503.84,644.47 L505.31,644.31 L506.76,644.11 L508.19,643.88 L509.61,643.60 L511.01,643.29 L512.40,642.92 L513.77,642.51 L515.11,642.05 L516.44,641.54 L517.74,640.97 L519.03,640.35 L520.29,639.67 L521.53,638.94 L522.74,638.16 L523.93,637.33 L525.10,636.46 L526.24,635.54 L527.36,634.58 L528.45,633.58 L529.52,632.55 L530.56,631.48 L531.58,630.38 L532.57,629.24 L533.53,628.08 L534.46,626.89 L535.37,625.68 L536.25,624.45 L537.10,623.19 L537.92,621.92 L538.71,620.63 L539.48,619.33 L540.21,618.02 L540.92,616.70 L541.59,615.36 L542.25,614.02 L542.87,612.66 L543.47,611.30 L544.05,609.92 L544.61,608.54 L545.14,607.14 L545.66,605.74 L546.15,604.33 L546.63,602.92 L547.09,601.49 L547.53,600.06 L547.96,598.63 L548.37,597.18 L548.77,595.74 L549.16,594.29 L549.53,592.83 L549.90,591.37 L550.25,589.90 L550.60,588.43 L550.94,586.96 L551.27,585.49 L551.60,584.01 L551.92,582.54 L552.24,581.06 L552.56,579.58 L552.87,578.10 L553.19,576.62 L553.50,575.14 L553.82,573.66 L554.13,572.18 L554.46,570.71 L554.78,569.23 L555.11,567.76 L555.45,566.29 L555.79,564.82 L556.14,563.36 L556.49,561.90 L556.84,560.44 L557.20,558.98 L557.56,557.52 L557.92,556.07 L558.29,554.61 L558.66,553.16 L559.03,551.71 L559.40,550.26 L559.77,548.81 L560.14,547.36 L560.51,545.92 L560.89,544.47 L561.26,543.02 L561.63,541.58 L562.00,540.14 L562.36,538.69 L562.73,537.25 L563.09,535.80 L563.45,534.36 L563.81,532.92 L564.16,531.48 L564.51,530.03 L564.85,528.59 L565.19,527.14 L565.53,525.70 L565.86,524.25 L566.18,522.81 L566.50,521.36 L566.81,519.91 L567.11,518.46 L567.41,517.01 L567.70,515.56 L567.98,514.10 L568.25,512.65 L568.52,511.19 L568.77,509.73 L569.02,508.27 L569.27,506.81 L569.52,505.35 L569.79,503.88 L570.08,502.42 L570.39,500.95 L570.74,499.49 L571.13,498.02 L571.57,496.56 L572.06,495.10 L572.61,493.63 L573.24,492.17 L573.93,490.71 L574.71,489.26 L575.58,487.80 L576.53,486.38 L577.57,485.06 L578.68,483.91 L579.86,483.01 L581.09,482.42 L582.37,482.22 L583.68,482.43 L584.94,482.94 L586.09,483.63 L587.12,484.46 L588.04,485.43 L588.87,486.52 L589.61,487.71 L590.28,488.99 L590.87,490.35 L591.41,491.77 L591.91,493.24 L592.37,494.74 L592.80,496.26 L593.21,497.79 L593.62,499.32 L594.01,500.84 L594.40,502.36 L594.77,503.88 L595.14,505.39 L595.51,506.90 L595.86,508.40 L596.21,509.90 L596.55,511.40 L596.89,512.90 L597.22,514.39 L597.55,515.88 L597.87,517.36 L598.19,518.84 L598.51,520.32 L598.82,521.80 L599.13,523.27 L599.44,524.74 L599.75,526.21 L600.06,527.67 L600.37,529.13 L600.67,530.59 L600.98,532.04 L601.29,533.49 L601.60,534.94 L601.91,536.38 L602.22,537.83 L602.53,539.27 L602.84,540.71 L603.16,542.14 L603.47,543.58 L603.79,545.01 L604.11,546.44 L604.42,547.88 L604.74,549.31 L605.06,550.74 L605.39,552.16 L605.71,553.59 L606.03,555.02 L606.36,556.45 L606.69,557.88 L607.01,559.30 L607.34,560.73 L607.67,562.16 L608.01,563.59 L608.34,565.02 L608.68,566.46 L609.01,567.89 L609.35,569.33 L609.69,570.76 L610.03,572.20 L610.38,573.64 L610.72,575.09 L611.07,576.53 L611.41,577.98 L611.76,579.43 L612.12,580.88 L612.47,582.34 L612.82,583.80 L613.18,585.27 L613.54,586.73 L613.90,588.21 L614.26,589.68 L614.63,591.16 L614.99,592.65 L615.36,594.14 L615.73,595.63 L616.10,597.13 L616.48,598.63 L616.86,600.14 L617.24,601.65 L617.63,603.15 L618.03,604.66 L618.43,606.17 L618.84,607.67 L619.27,609.17 L619.70,610.66 L620.15,612.15 L620.61,613.62 L621.08,615.09 L621.57,616.55 L622.08,618.00 L622.60,619.43 L623.15,620.84 L623.71,622.25 L624.29,623.63 L624.90,625.00 L625.53,626.34 L626.18,627.67 L626.85,628.97 L627.56,630.25 L628.29,631.51 L629.05,632.74 L629.84,633.94 L630.65,635.12 L631.50,636.26 L632.39,637.38 L633.30,638.46 L634.25,639.51 L635.24,640.52 L636.26,641.50 L637.33,642.44 L638.43,643.35 L639.57,644.21 L640.75,645.03 L641.97,645.81 L643.23,646.55 L644.53,647.24 L645.87,647.90 L647.23,648.50 L648.63,649.07 L650.05,649.58 L651.49,650.05 L652.96,650.48 L654.44,650.86 L655.94,651.19 L657.45,651.48 L658.97,651.72 L660.50,651.91 L662.03,652.05 L663.56,652.14 L665.09,652.18 L666.62,652.18 L668.15,652.12 L669.66,652.01 L671.16,651.85 L672.65,651.64 L674.12,651.38" fill="none" stroke="#ee4040" stroke-width="1.8"/>
<path d="M376.05,643.36 L377.43,643.24 L378.83,643.13 L380.24,643.04 L381.67,642.96 L383.12,642.89 L384.58,642.83 L386.05,642.78 L387.53,642.74 L389.03,642.70 L390.53,642.66 L392.04,642.63 L393.56,642.60 L395.09,642.56 L396.62,642.52 L398.15,642.48 L399.69,642.44 L401.23,642.38 L402.78,642.32 L404.32,642.25 L405.86,642.17 L407.40,642.07 L408.94,641.96 L410.48,641.83 L412.01,641.69 L413.53,641.53 L415.05,641.34 L416.56,641.14 L418.06,640.91 L419.55,640.66 L421.03,640.38 L422.50,640.08 L423.95,639.74 L425.40,639.37 L426.82,638.98 L428.23,638.54 L429.63,638.08 L431.01,637.57 L432.36,637.03 L433.70,636.45 L435.02,635.83 L436.31,635.16 L437.58,634.46 L438.83,633.71 L440.06,632.92 L441.27,632.10 L442.45,631.24 L443.62,630.34 L444.76,629.41 L445.88,628.45 L446.97,627.46 L448.05,626.43 L449.10,625.38 L450.13,624.30 L451.14,623.19 L452.13,622.05 L453.10,620.90 L454.04,619.72 L454.97,618.51 L455.87,617.29 L456.75,616.05 L457.61,614.79 L458.45,613.51 L459.27,612.22 L460.06,610.91 L460.84,609.60 L461.59,608.26 L462.32,606.92 L463.03,605.57 L463.72,604.22 L464.39,602.85 L465.04,601.48 L465.66,600.11 L466.27,598.73 L466.85,597.35 L467.42,595.96 L467.97,594.57 L468.50,593.18 L469.02,591.78 L469.52,590.38 L470.01,588.98 L470.49,587.57 L470.95,586.16 L471.40,584.75 L471.83,583.33 L472.26,581.91 L472.68,580.49 L473.09,579.07 L473.50,577.64 L473.89,576.21 L474.28,574.78 L474.67,573.35 L475.05,571.91 L475.42,570.47 L475.80,569.03 L476.17,567.59 L476.55,566.15 L476.92,564.70 L477.29,563.26 L477.66,561.81 L478.04,560.36 L478.42,558.91 L478.81,557.46 L479.19,556.00 L479.58,554.55 L479.98,553.09 L480.37,551.64 L480.77,550.18 L481.17,548.72 L481.57,547.26 L481.97,545.81 L482.38,544.35 L482.79,542.89 L483.19,541.43 L483.60,539.97 L484.01,538.51 L484.42,537.05 L484.83,535.59 L485.25,534.13 L485.66,532.67 L486.07,531.21 L486.48,529.75 L486.89,528.29 L487.30,526.83 L487.70,525.37 L488.11,523.91 L488.51,522.46 L488.92,521.00 L489.32,519.54 L489.72,518.09 L490.11,516.64 L490.51,515.19 L490.90,513.73 L491.29,512.28 L491.68,510.84 L492.06,509.39 L492.44,507.94 L492.81,506.50 L493.18,505.06 L493.55,503.62 L493.91,502.18 L494.27,500.74 L494.63,499.30 L494.98,497.87 L495.34,496.44 L495.68,495.00 L496.03,493.57 L496.37,492.14 L496.71,490.71 L497.05,489.28 L497.39,487.85 L497.73,486.42 L498.06,484.99 L498.40,483.56 L498.73,482.13 L499.07,480.70 L499.40,479.27 L499.73,477.84 L500.07,476.41 L500.40,474.98 L500.74,473.54 L501.07,472.11 L501.41,470.67 L501.75,469.24 L502.09,467.80 L502.43,466.36 L502.78,464.92 L503.12,463.48 L503.47,462.04 L503.82,460.59 L504.18,459.14 L504.54,457.69 L504.90,456.24 L505.26,454.79 L505.63,453.33 L506.01,451.87 L506.39,450.41 L506.77,448.94 L507.16,447.48 L507.55,446.00 L507.95,444.53 L508.35,443.05 L508.76,441.57 L509.17,440.08 L509.59,438.60 L510.02,437.10 L510.46,435.61 L510.90,434.11 L511.35,432.60 L511.80,431.09 L512.26,429.58 L512.74,428.06 L513.21,426.54 L513.70,425.01 L514.20,423.48 L514.70,421.94 L515.22,420.40 L515.74,418.85 L516.28,417.32 L516.84,415.82 L517.43,414.37 L518.05,413.00 L518.72,411.73 L519.44,410.57 L520.21,409.55 L521.05,408.69 L521.96,408.02 L522.95,407.54 L524.02,407.29 L525.15,407.25 L526.31,407.42 L527.49,407.80 L528.66,408.37 L529.80,409.13 L530.88,410.07 L531.91,411.16 L532.89,412.37 L533.81,413.66 L534.68,415.01 L535.50,416.37 L536.27,417.74 L537.00,419.13 L537.68,420.52 L538.33,421.92 L538.93,423.33 L539.51,424.74 L540.05,426.17 L540.56,427.59 L541.05,429.03 L541.51,430.46 L541.95,431.91 L542.37,433.35 L542.78,434.80 L543.17,436.25 L543.55,437.71 L543.93,439.16 L544.30,440.62 L544.66,442.08 L545.02,443.54 L545.38,445.00 L545.74,446.46 L546.09,447.92 L546.44,449.38 L546.79,450.84 L547.14,452.30 L547.48,453.76 L547.82,455.22 L548.16,456.69 L548.50,458.15 L548.84,459.62 L549.17,461.08 L549.50,462.54 L549.83,464.01 L550.16,465.47 L550.48,466.94 L550.81,468.41 L551.13,469.87 L551.45,471.34 L551.77,472.81 L552.09,474.27 L552.41,475.74 L552.73,477.21 L553.04,478.67 L553.36,480.14 L553.68,481.61 L553.99,483.07 L554.30,484.54 L554.62,486.01 L554.93,487.48 L555.24,488.94 L555.56,490.41 L555.87,491.88 L556.18,493.34 L556.50,494.81 L556.81,496.28 L557.12,497.74 L557.44,499.21 L557.75,500.68 L558.07,502.14 L558.38,503.61 L558.70,505.07 L559.02,506.54 L559.34,508.00 L559.65,509.46 L559.98,510.93 L560.30,512.39 L560.62,513.85 L560.94,515.32 L561.27,516.78 L561.60,518.24 L561.93,519.70 L562.26,521.16 L562.59,522.62 L562.93,524.08 L563.26,525.54 L563.60,526.99 L563.94,528.45 L564.29,529.91 L564.63,531.36 L564.98,532.82 L565.33,534.27 L565.68,535.72 L566.04,537.18 L566.40,538.63 L566.76,540.08 L567.13,541.53 L567.50,542.98 L567.87,544.43 L568.24,545.87 L568.62,547.32 L569.00,548.77 L569.39,550.21 L569.78,551.65 L570.17,553.09 L570.56,554.54 L570.96,555.98 L571.37,557.41 L571.78,558.85 L572.19,560.29 L572.61,561.72 L573.03,563.16 L573.45,564.59 L573.89,566.02 L574.32,567.45 L574.76,568.88 L575.21,570.31 L575.66,571.73 L576.11,573.16 L576.57,574.58 L577.04,576.00 L577.51,577.42 L577.98,578.84 L578.47,580.26 L578.95,581.67 L579.45,583.09 L579.95,584.50 L580.45,585.91 L580.97,587.32 L581.48,588.72 L582.01,590.13 L582.54,591.53 L583.08,592.93 L583.62,594.33 L584.17,595.72 L584.73,597.12 L585.29,598.51 L585.87,599.90 L586.44,601.29 L587.03,602.67 L587.62,604.06 L588.23,605.44 L588.83,606.82 L589.45,608.20 L590.08,609.57 L590.71,610.94 L591.35,612.31 L592.00,613.68 L592.65,615.05 L593.32,616.41 L593.99,617.77 L594.67,619.13 L595.36,620.48 L596.06,621.83 L596.77,623.18 L597.49,624.53 L598.22,625.87 L598.96,627.19 L599.72,628.51 L600.50,629.81 L601.30,631.08 L602.13,632.33 L602.99,633.56 L603.87,634.75 L604.79,635.91 L605.74,637.02 L606.73,638.10 L607.76,639.13 L608.84,640.11 L609.95,641.04 L611.12,641.91 L612.33,642.73 L613.58,643.50 L614.87,644.21 L616.19,644.88 L617.55,645.50 L618.94,646.07 L620.35,646.60 L621.79,647.09 L623.25,647.54 L624.72,647.95 L626.21,648.33 L627.71,648.66 L629.22,648.97 L630.74,649.24 L632.25,649.49 L633.77,649.70 L635.28,649.89 L636.79,650.05 L638.29,650.19 L639.79,650.31 L641.27,650.41 L642.76,650.50 L644.23,650.57 L645.71,650.62 L647.18,650.67 L648.65,650.70 L650.11,650.73 L651.58,650.75 L653.05,650.77 L654.52,650.78 L655.99,650.80 L657.46,650.82 L658.94,650.84 L660.42,650.87 L661.91,650.90 L663.40,650.95 L664.90,651.01 L666.41,651.08 L667.93,651.16 L669.45,651.27 L670.99,651.39 L672.54,651.54 L674.10,651.70" fill="none" stroke="#166cde" stroke-width="2"/>
<path d="M375.85,642.62 L377.39,642.62 L378.91,642.56 L380.42,642.46 L381.93,642.31 L383.42,642.12 L384.90,641.88 L386.38,641.61 L387.84,641.30 L389.30,640.95 L390.74,640.58 L392.18,640.17 L393.62,639.73 L395.04,639.26 L396.46,638.78 L397.87,638.27 L399.28,637.74 L400.68,637.19 L402.07,636.62 L403.46,636.05 L404.85,635.46 L406.23,634.86 L407.61,634.26 L408.98,633.65 L410.35,633.05 L411.72,632.44 L413.08,631.83 L414.44,631.23 L415.80,630.63 L417.16,630.03 L418.52,629.44 L419.88,628.85 L421.23,628.26 L422.59,627.67 L423.95,627.07 L425.31,626.48 L426.67,625.89 L428.03,625.29 L429.40,624.69 L430.77,624.08 L432.14,623.47 L433.51,622.85 L434.89,622.23 L436.27,621.60 L437.66,620.96 L439.04,620.30 L440.42,619.64 L441.79,618.96 L443.15,618.26 L444.50,617.55 L445.84,616.82 L447.16,616.06 L448.45,615.28 L449.73,614.48 L450.98,613.66 L452.19,612.80 L453.38,611.92 L454.53,611.00 L455.65,610.05 L456.72,609.07 L457.76,608.05 L458.74,607.00 L459.69,605.90 L460.59,604.78 L461.45,603.62 L462.27,602.43 L463.06,601.21 L463.81,599.96 L464.53,598.68 L465.22,597.38 L465.87,596.06 L466.50,594.72 L467.11,593.35 L467.68,591.97 L468.24,590.57 L468.78,589.15 L469.29,587.72 L469.79,586.28 L470.27,584.83 L470.74,583.37 L471.20,581.91 L471.65,580.43 L472.09,578.96 L472.52,577.48 L472.95,576.00 L473.37,574.52 L473.79,573.04 L474.21,571.57 L474.63,570.10 L475.05,568.63 L475.47,567.16 L475.88,565.69 L476.29,564.23 L476.70,562.77 L477.11,561.31 L477.52,559.85 L477.93,558.39 L478.33,556.94 L478.74,555.48 L479.14,554.03 L479.54,552.58 L479.94,551.13 L480.34,549.68 L480.73,548.23 L481.13,546.79 L481.52,545.35 L481.92,543.90 L482.31,542.46 L482.70,541.02 L483.09,539.58 L483.48,538.14 L483.87,536.70 L484.26,535.27 L484.64,533.83 L485.03,532.40 L485.41,530.96 L485.80,529.53 L486.18,528.10 L486.56,526.66 L486.94,525.23 L487.32,523.80 L487.70,522.37 L488.08,520.94 L488.46,519.51 L488.83,518.08 L489.21,516.65 L489.58,515.22 L489.96,513.79 L490.33,512.36 L490.71,510.93 L491.08,509.51 L491.46,508.08 L491.83,506.65 L492.20,505.22 L492.57,503.79 L492.94,502.36 L493.31,500.93 L493.69,499.50 L494.06,498.07 L494.43,496.64 L494.80,495.20 L495.17,493.77 L495.53,492.34 L495.90,490.91 L496.27,489.47 L496.64,488.04 L497.01,486.60 L497.38,485.17 L497.75,483.73 L498.12,482.29 L498.49,480.85 L498.86,479.41 L499.23,477.97 L499.59,476.53 L499.96,475.08 L500.33,473.64 L500.70,472.19 L501.07,470.74 L501.44,469.29 L501.81,467.84 L502.18,466.39 L502.56,464.94 L502.93,463.48 L503.30,462.03 L503.67,460.57 L504.04,459.11 L504.42,457.65 L504.79,456.18 L505.17,454.72 L505.54,453.25 L505.92,451.78 L506.29,450.31 L506.67,448.83 L507.05,447.36 L507.42,445.88 L507.80,444.40 L508.18,442.92 L508.56,441.43 L508.94,439.94 L509.33,438.45 L509.71,436.96 L510.09,435.47 L510.48,433.97 L510.86,432.47 L511.25,430.97 L511.64,429.46 L512.02,427.95 L512.41,426.44 L512.80,424.93 L513.20,423.41 L513.59,421.89 L513.98,420.37 L514.38,418.85 L514.79,417.33 L515.20,415.82 L515.64,414.33 L516.10,412.86 L516.59,411.42 L517.11,410.02 L517.67,408.65 L518.27,407.33 L518.92,406.06 L519.62,404.85 L520.38,403.69 L521.21,402.61 L522.10,401.60 L523.06,400.67 L524.10,399.83 L525.22,399.08 L526.43,398.42 L527.72,397.87 L529.08,397.45 L530.48,397.19 L531.90,397.12 L533.30,397.28 L534.66,397.68 L535.96,398.34 L537.21,399.22 L538.42,400.25 L539.60,401.34 L540.76,402.45 L541.91,403.56 L543.06,404.66 L544.20,405.73 L545.35,406.77 L546.50,407.77 L547.67,408.72 L548.86,409.61 L550.06,410.43 L551.30,411.17 L552.56,411.82 L553.86,412.38 L555.20,412.83 L556.59,413.16 L558.02,413.36 L559.51,413.44 L561.03,413.41 L562.59,413.30 L564.16,413.15 L565.73,412.99 L567.29,412.84 L568.82,412.75 L570.30,412.74 L571.73,412.84 L573.10,413.09 L574.38,413.51 L575.56,414.14 L576.65,414.96 L577.66,415.94 L578.59,417.07 L579.44,418.33 L580.23,419.68 L580.96,421.12 L581.63,422.62 L582.26,424.15 L582.85,425.70 L583.40,427.25 L583.92,428.77 L584.42,430.26 L584.89,431.74 L585.34,433.19 L585.78,434.63 L586.19,436.05 L586.60,437.47 L586.99,438.88 L587.38,440.30 L587.76,441.71 L588.14,443.13 L588.51,444.55 L588.87,445.97 L589.23,447.40 L589.59,448.83 L589.94,450.26 L590.29,451.69 L590.63,453.13 L590.97,454.57 L591.31,456.02 L591.64,457.46 L591.97,458.91 L592.29,460.36 L592.61,461.81 L592.92,463.27 L593.24,464.73 L593.54,466.19 L593.85,467.65 L594.15,469.11 L594.45,470.58 L594.74,472.04 L595.04,473.51 L595.32,474.98 L595.61,476.45 L595.89,477.93 L596.17,479.40 L596.45,480.88 L596.72,482.36 L596.99,483.84 L597.26,485.31 L597.53,486.80 L597.79,488.28 L598.05,489.76 L598.31,491.24 L598.57,492.73 L598.82,494.21 L599.08,495.70 L599.33,497.18 L599.58,498.67 L599.82,500.15 L600.07,501.64 L600.31,503.13 L600.56,504.62 L600.80,506.10 L601.04,507.59 L601.28,509.08 L601.51,510.56 L601.75,512.05 L601.99,513.54 L602.22,515.02 L602.46,516.51 L602.69,518.00 L602.93,519.48 L603.16,520.97 L603.40,522.45 L603.63,523.94 L603.87,525.42 L604.10,526.91 L604.34,528.39 L604.58,529.88 L604.82,531.36 L605.06,532.85 L605.30,534.33 L605.54,535.81 L605.78,537.29 L606.03,538.77 L606.28,540.25 L606.53,541.73 L606.78,543.21 L607.03,544.69 L607.29,546.17 L607.55,547.65 L607.81,549.12 L608.07,550.60 L608.34,552.07 L608.61,553.55 L608.89,555.02 L609.16,556.49 L609.44,557.96 L609.73,559.43 L610.02,560.90 L610.31,562.37 L610.61,563.84 L610.91,565.30 L611.21,566.77 L611.52,568.23 L611.84,569.70 L612.16,571.16 L612.48,572.62 L612.81,574.08 L613.14,575.53 L613.48,576.99 L613.83,578.45 L614.18,579.90 L614.54,581.35 L614.90,582.80 L615.27,584.25 L615.65,585.70 L616.03,587.15 L616.42,588.59 L616.81,590.04 L617.21,591.48 L617.62,592.92 L618.04,594.36 L618.46,595.79 L618.89,597.23 L619.33,598.66 L619.78,600.09 L620.23,601.52 L620.69,602.95 L621.16,604.38 L621.64,605.80 L622.12,607.23 L622.62,608.65 L623.12,610.06 L623.63,611.48 L624.16,612.90 L624.69,614.31 L625.22,615.72 L625.77,617.13 L626.33,618.53 L626.90,619.94 L627.48,621.34 L628.07,622.74 L628.66,624.14 L629.27,625.53 L629.89,626.93 L630.52,628.31 L631.17,629.69 L631.83,631.06 L632.52,632.40 L633.22,633.73 L633.96,635.04 L634.72,636.32 L635.51,637.56 L636.33,638.78 L637.19,639.95 L638.08,641.08 L639.01,642.17 L639.99,643.21 L641.01,644.20 L642.08,645.13 L643.20,646.00 L644.38,646.81 L645.60,647.55 L646.89,648.23 L648.23,648.82 L649.64,649.34 L651.11,649.78 L652.64,650.15 L654.22,650.44 L655.83,650.68 L657.46,650.86 L659.11,651.00 L660.76,651.11 L662.40,651.18 L664.03,651.24 L665.62,651.28 L667.17,651.32 L668.67,651.37 L670.11,651.43 L671.47,651.50 L672.74,651.61 L673.92,651.75" fill="none" stroke="#ff00ff" stroke-width="2.0"/>
<line x1="382.7" y1="19.0" x2="411.8" y2="19.0" stroke="#000" stroke-width="2"/>
<line x1="34.9" y1="385.0" x2="64.5" y2="385.0" stroke="#0000ff" stroke-width="2.1"/>
<line x1="390.2" y1="388.9" x2="416.4" y2="388.9" stroke="#ff00ff" stroke-width="2"/>
<line x1="390.2" y1="406.4" x2="416.4" y2="406.4" stroke="#ee4040" stroke-width="2"/>
<line x1="390.2" y1="426.8" x2="416.4" y2="426.8" stroke="#166cde" stroke-width="2"/>
<line x1="390.2" y1="444.6" x2="416.4" y2="444.6" stroke="#38aa66" stroke-width="2"/>
<g font-family="Liberation Sans" font-weight="bold" font-size="100" fill="#000">
<text transform="translate(34.76,22.65) scale(0.1089,0.1309)" >(a)</text>
<text transform="translate(652.37,20.22) scale(0.1059,0.1277)" >(b)</text>
<text transform="translate(299.24,387.67) scale(0.1116,0.1298)" >(c)</text>
<text transform="translate(652.37,385.95) scale(0.1059,0.1213)" >(d)</text>
<text transform="translate(269.96,30.00) scale(0.1346,0.1644)" >Bi4f</text>
<text transform="translate(174.66,112.42) scale(0.1359,0.1789)" >O1s</text>
<text transform="translate(246.85,199.93) scale(0.1366,0.1746)" >C1s</text>
<text transform="translate(295.10,228.90) scale(0.1295,0.1589)" >W4f</text>
<text transform="translate(414.84,24.10) scale(0.1231,0.1493)" >Bi4f</text>
<text transform="translate(68.30,389.40) scale(0.1186,0.1466)" >W4f</text>
<text transform="translate(419.56,392.88) scale(0.1110,0.1225)" >O1s</text>
<text transform="translate(419.20,410.78) scale(0.1148,0.1327)" >Bi-O (Bi<tspan dy="25" font-size="64">2</tspan><tspan dy="-25">WO</tspan><tspan dy="25" font-size="64">6</tspan><tspan dy="-25">)</tspan></text>
<text transform="translate(420.00,430.97) scale(0.1106,0.1254)" >W-O</text>
<text transform="translate(419.20,448.88) scale(0.1147,0.1327)" >Bi-O (Bi<tspan dy="25" font-size="64">2</tspan><tspan dy="-25">O</tspan><tspan dy="25" font-size="64">3</tspan><tspan dy="-25">)</tspan></text>
<text transform="translate(398.29,92.95) scale(0.1303,0.1529)" >Bi<tspan dy="-46" font-size="64">3+</tspan><tspan dy="46">(4f</tspan><tspan dy="32" font-size="64">5/2</tspan><tspan dy="-32">)</tspan></text>
<text transform="translate(512.49,52.30) scale(0.1303,0.1580)" >Bi<tspan dy="-46" font-size="64">3+</tspan><tspan dy="46">(4f</tspan><tspan dy="32" font-size="64">7/2</tspan><tspan dy="-32">)</tspan></text>
<text transform="translate(183.10,404.50) scale(0.1292,0.1609)" >W<tspan dy="-46" font-size="64">6+</tspan><tspan dy="46">(4f</tspan><tspan dy="32" font-size="64">5/2</tspan><tspan dy="-32">)</tspan></text>
<text transform="translate(236.00,503.40) scale(0.1295,0.1565)" >W<tspan dy="-46" font-size="64">6+</tspan><tspan dy="46">(4f</tspan><tspan dy="32" font-size="64">7/2</tspan><tspan dy="-32">)</tspan></text>
<text transform="translate(130.94,516.40) scale(0.1261,0.1594)" ><tspan font-weight="normal">(</tspan>W<tspan dy="-40" font-size="64">5+</tspan><tspan dy="40" font-weight="normal">)</tspan></text>
<text transform="translate(102.46,340.70) scale(0.1485,0.1809)" >Binding Energy (eV)</text>
<text transform="translate(453.86,340.70) scale(0.1480,0.1809)" >Binding Energy (eV)</text>
<text transform="translate(102.66,704.89) scale(0.1485,0.1766)" >Binding Energy (eV)</text>
<text transform="translate(453.86,704.89) scale(0.1480,0.1766)" >Binding Energy (eV)</text>
<text transform="translate(12.53,215.27) rotate(-90) scale(0.1961,0.1559)" >Intensity (a.u.)</text>
<text transform="translate(363.87,215.27) rotate(-90) scale(0.1961,0.1585)" >Intensity (a.u.)</text>
<text transform="translate(12.53,581.37) rotate(-90) scale(0.1959,0.1559)" >Intensity (a.u.)</text>
<text transform="translate(363.87,581.58) rotate(-90) scale(0.1965,0.1585)" >Intensity (a.u.)</text>
<text text-anchor="middle" stroke="#fff" stroke-width="1.6" stroke-linejoin="round" transform="translate(23.60,317.65) scale(0.1146,0.1479)">1200</text>
<text text-anchor="middle" stroke="#fff" stroke-width="1.6" stroke-linejoin="round" transform="translate(73.52,317.65) scale(0.1146,0.1479)">1000</text>
<text text-anchor="middle" stroke="#fff" stroke-width="1.6" stroke-linejoin="round" transform="translate(123.43,317.65) scale(0.1146,0.1479)">800</text>
<text text-anchor="middle" stroke="#fff" stroke-width="1.6" stroke-linejoin="round" transform="translate(173.35,317.65) scale(0.1146,0.1479)">600</text>
<text text-anchor="middle" stroke="#fff" stroke-width="1.6" stroke-linejoin="round" transform="translate(223.27,317.65) scale(0.1146,0.1479)">400</text>
<text text-anchor="middle" stroke="#fff" stroke-width="1.6" stroke-linejoin="round" transform="translate(273.18,317.65) scale(0.1146,0.1479)">200</text>
<text text-anchor="middle" stroke="#fff" stroke-width="1.6" stroke-linejoin="round" transform="translate(323.10,317.65) scale(0.1146,0.1479)">0</text>
<text text-anchor="middle" stroke="#fff" stroke-width="1.6" stroke-linejoin="round" transform="translate(375.20,317.65) scale(0.1146,0.1479)">168</text>
<text text-anchor="middle" stroke="#fff" stroke-width="1.6" stroke-linejoin="round" transform="translate(418.01,317.65) scale(0.1146,0.1479)">166</text>
<text text-anchor="middle" stroke="#fff" stroke-width="1.6" stroke-linejoin="round" transform="translate(460.83,317.65) scale(0.1146,0.1479)">164</text>
<text text-anchor="middle" stroke="#fff" stroke-width="1.6" stroke-linejoin="round" transform="translate(503.64,317.65) scale(0.1146,0.1479)">162</text>
<text text-anchor="middle" stroke="#fff" stroke-width="1.6" stroke-linejoin="round" transform="translate(546.46,317.65) scale(0.1146,0.1479)">160</text>
<text text-anchor="middle" stroke="#fff" stroke-width="1.6" stroke-linejoin="round" transform="translate(589.27,317.65) scale(0.1146,0.1479)">158</text>
<text text-anchor="middle" stroke="#fff" stroke-width="1.6" stroke-linejoin="round" transform="translate(632.09,317.65) scale(0.1146,0.1479)">156</text>
<text text-anchor="middle" stroke="#fff" stroke-width="1.6" stroke-linejoin="round" transform="translate(674.90,317.65) scale(0.1146,0.1479)">154</text>
<text text-anchor="middle" stroke="#fff" stroke-width="1.6" stroke-linejoin="round" transform="translate(24.00,683.66) scale(0.1146,0.1437)">44</text>
<text text-anchor="middle" stroke="#fff" stroke-width="1.6" stroke-linejoin="round" transform="translate(83.92,683.66) scale(0.1146,0.1437)">42</text>
<text text-anchor="middle" stroke="#fff" stroke-width="1.6" stroke-linejoin="round" transform="translate(143.84,683.66) scale(0.1146,0.1437)">40</text>
<text text-anchor="middle" stroke="#fff" stroke-width="1.6" stroke-linejoin="round" transform="translate(203.76,683.66) scale(0.1146,0.1437)">38</text>
<text text-anchor="middle" stroke="#fff" stroke-width="1.6" stroke-linejoin="round" transform="translate(263.68,683.66) scale(0.1146,0.1437)">36</text>
<text text-anchor="middle" stroke="#fff" stroke-width="1.6" stroke-linejoin="round" transform="translate(323.60,683.66) scale(0.1146,0.1437)">34</text>
<text text-anchor="middle" stroke="#fff" stroke-width="1.6" stroke-linejoin="round" transform="translate(375.20,683.66) scale(0.1146,0.1437)">536</text>
<text text-anchor="middle" stroke="#fff" stroke-width="1.6" stroke-linejoin="round" transform="translate(450.12,683.66) scale(0.1146,0.1437)">534</text>
<text text-anchor="middle" stroke="#fff" stroke-width="1.6" stroke-linejoin="round" transform="translate(525.05,683.66) scale(0.1146,0.1437)">532</text>
<text text-anchor="middle" stroke="#fff" stroke-width="1.6" stroke-linejoin="round" transform="translate(599.97,683.66) scale(0.1146,0.1437)">530</text>
<text text-anchor="middle" stroke="#fff" stroke-width="1.6" stroke-linejoin="round" transform="translate(674.90,683.66) scale(0.1146,0.1437)">528</text>
</g>
</svg>
</body></html>
